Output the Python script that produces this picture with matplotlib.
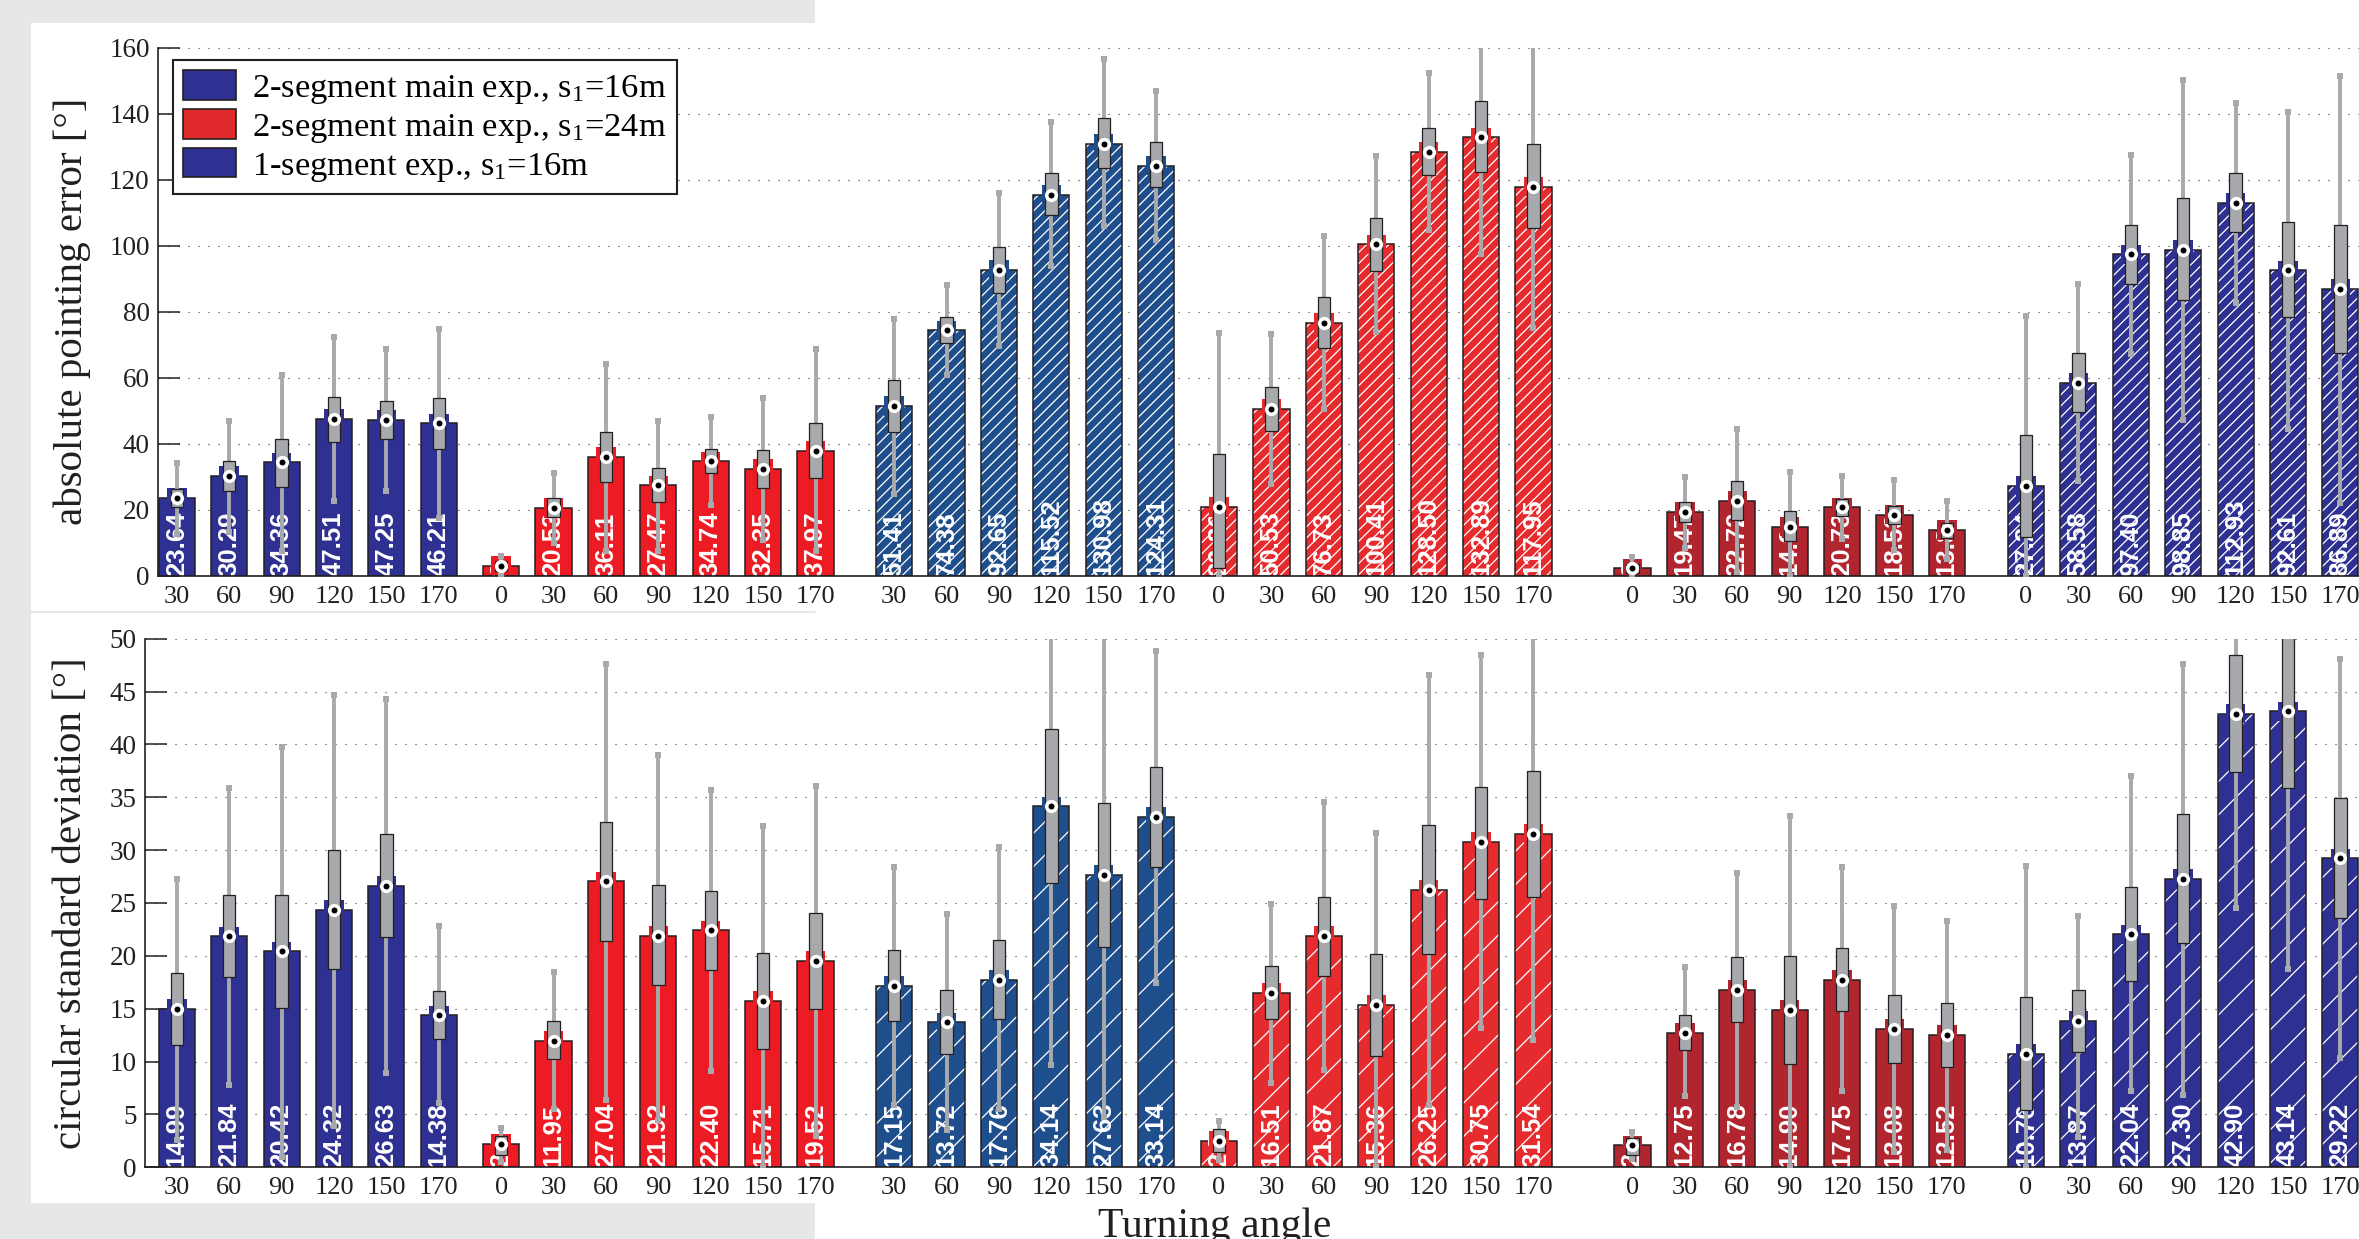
import numpy as np
import matplotlib
matplotlib.use('Agg')
import matplotlib.pyplot as plt
from matplotlib.patches import Rectangle, Patch
from matplotlib.lines import Line2D

plt.rcParams['font.family'] = ['Liberation Serif', 'DejaVu Serif']
plt.rcParams['mathtext.fontset'] = 'custom'
plt.rcParams['mathtext.rm'] = 'Liberation Serif'
plt.rcParams['mathtext.it'] = 'Liberation Serif:italic'
plt.rcParams['hatch.linewidth'] = 0.9

# --- turning angles per condition group ---
angles_no0 = [30, 60, 90, 120, 150, 170]
angles_all = [0, 30, 60, 90, 120, 150, 170]
group_angles = [angles_no0, angles_all, angles_no0, angles_all, angles_all, angles_all]

# --- absolute pointing error [deg]: mean, quartiles, whisker ends ---
err_mean = [23.64, 30.29, 34.36, 47.51, 47.25, 46.21,
            3.12, 20.53, 36.11, 27.47, 34.74, 32.35, 37.97,
            51.41, 74.38, 92.65, 115.52, 130.98, 124.31,
            20.86, 50.53, 76.73, 100.41, 128.50, 132.89, 117.95,
            2.30, 19.47, 22.72, 14.93, 20.73, 18.53, 13.89,
            27.24, 58.58, 97.40, 98.85, 112.93, 92.61, 86.89]
err_q3 = [26.3, 34.8, 41.4, 54.3, 53.1, 53.9,
          4.6, 23.5, 43.7, 32.8, 38.3, 38.0, 46.4,
          59.4, 78.5, 99.7, 122.1, 138.8, 131.4,
          36.9, 57.2, 84.6, 108.4, 135.6, 143.8, 130.8,
          3.6, 22.3, 28.8, 19.7, 23.2, 21.3, 16.1,
          42.7, 67.6, 106.4, 114.4, 122.1, 107.2, 106.4]
err_q1 = [20.9, 25.7, 27.0, 40.6, 41.4, 38.5,
          1.6, 17.7, 28.4, 22.3, 31.1, 26.7, 29.8,
          43.5, 70.5, 85.8, 109.2, 123.7, 117.7,
          2.5, 43.8, 69.0, 92.5, 121.5, 122.5, 105.3,
          1.0, 16.2, 16.9, 10.7, 18.2, 15.7, 11.6,
          11.9, 49.6, 88.5, 83.5, 104.1, 78.3, 67.6]
err_hi = [34.2, 47.0, 60.9, 72.5, 68.8, 74.8,
          6.0, 31.1, 64.1, 47.0, 48.1, 53.9, 68.8,
          77.9, 88.1, 115.9, 137.4, 156.5, 147.0,
          73.6, 73.3, 103.0, 127.2, 152.5, 165.0, 168.0,
          5.8, 30.1, 44.6, 31.6, 30.4, 29.1, 22.7,
          78.6, 88.5, 127.5, 150.1, 143.2, 140.6, 151.6]
err_lo = [12.8, 13.3, 7.5, 22.6, 25.7, 17.4,
          0.4, 9.9, 7.5, 7.5, 21.4, 11.0, 7.5,
          24.9, 60.9, 69.6, 93.9, 105.9, 101.7,
          0.0, 27.8, 50.7, 73.9, 104.9, 97.4, 75.1,
          0.0, 8.4, 1.2, 0.0, 11.1, 7.8, 5.0,
          0.0, 28.8, 67.2, 47.3, 82.7, 44.6, 22.0]

# --- circular standard deviation [deg] ---
sd_mean = [14.99, 21.84, 20.42, 24.32, 26.63, 14.38,
           2.21, 11.95, 27.04, 21.92, 22.40, 15.71, 19.52,
           17.15, 13.72, 17.76, 34.14, 27.63, 33.14,
           2.52, 16.51, 21.87, 15.36, 26.25, 30.75, 31.54,
           2.08, 12.75, 16.78, 14.90, 17.75, 13.08, 12.52,
           10.76, 13.87, 22.04, 27.30, 42.90, 43.14, 29.22]
sd_q3 = [18.4, 25.8, 25.8, 30.0, 31.5, 16.7,
         3.0, 13.8, 32.7, 26.7, 26.1, 20.3, 24.1,
         20.6, 16.8, 21.5, 41.5, 34.5, 37.9,
         3.6, 19.0, 25.6, 20.2, 32.4, 36.0, 37.5,
         2.8, 14.4, 19.9, 20.0, 20.7, 16.3, 15.5,
         16.1, 16.8, 26.5, 33.4, 48.5, 51.0, 34.9]
sd_q1 = [11.6, 18.0, 15.1, 18.8, 21.8, 12.1,
         1.2, 10.2, 21.4, 17.2, 18.7, 11.2, 15.0,
         13.8, 10.7, 14.0, 26.9, 20.8, 28.4,
         1.4, 14.0, 18.1, 10.5, 20.2, 25.4, 25.6,
         1.2, 11.1, 13.7, 9.8, 14.8, 9.9, 9.5,
         5.4, 10.9, 17.6, 21.2, 37.4, 35.9, 23.6]
sd_hi = [27.3, 35.9, 39.8, 44.7, 44.3, 22.8,
         3.7, 18.5, 47.6, 39.0, 35.7, 32.3, 36.1,
         28.4, 24.0, 30.3, 52.0, 53.0, 48.8,
         4.4, 24.9, 34.6, 31.6, 46.6, 48.5, 52.0,
         3.3, 18.9, 27.8, 33.2, 28.4, 24.7, 23.3,
         28.5, 23.8, 37.0, 47.6, 53.0, 56.0, 48.1]
sd_lo = [2.6, 7.8, 1.0, 3.9, 8.9, 6.1,
         0.5, 5.5, 6.4, 4.5, 9.1, 0.0, 3.0,
         5.9, 3.5, 5.5, 9.7, 4.8, 17.4,
         0.7, 8.0, 9.2, 0.0, 5.9, 13.2, 12.0,
         0.8, 6.7, 5.7, 0.0, 7.2, 1.4, 1.6,
         0.0, 2.9, 7.2, 6.8, 24.5, 18.8, 10.3]

legend_labels = ['2-segment main exp., s$_{1}$=16m',
                 '2-segment main exp., s$_{1}$=24m',
                 '1-segment exp., s$_{1}$=16m']

# --- styling ---
group_colors = ['#2e3192', '#ed1c24', '#1f4e8d', '#e52b2e', '#b1252f', '#2e3192']
hatch_top = [None, None, '///', '///', None, '///']
hatch_bot = [None, None, '/', '/', None, '/']
group_start = [0.0, 6.19, 13.69, 19.89, 27.78, 35.29]
EDGE = '#231f20'
GREY = '#a7a9ac'
BAR_W = 0.69
BOX_W = 0.235
VALUE_FONT = ['Liberation Sans', 'DejaVu Sans']

x = np.concatenate([s + np.arange(len(a)) for s, a in zip(group_start, group_angles)])
tick_lbl = [str(a) for grp in group_angles for a in grp]
bar_col = [c for c, a in zip(group_colors, group_angles) for _ in a]

W, H, DPI = 2359, 1239, 100
PX_UNIT = 52.4
X0_PX = 176.8
XMAX = 42.5

fig = plt.figure(figsize=(W / DPI, H / DPI), dpi=DPI)
fig.patch.set_facecolor('#e6e7e8')
# white page areas behind the plots
fig.add_artist(Rectangle((31 / W, 1 - 1203 / H), (815 - 31) / W, (1203 - 23) / H,
                         transform=fig.transFigure, facecolor='white', edgecolor='none', zorder=-10))
fig.add_artist(Rectangle((815 / W, 0), 1 - 815 / W, 1, transform=fig.transFigure,
                         facecolor='white', edgecolor='none', zorder=-10))
fig.add_artist(Line2D([31 / W, 815 / W], [1 - 612 / H, 1 - 612 / H], transform=fig.transFigure,
                      color='#e2e3e4', lw=1.2, zorder=-9))


def make_axes(left_px, y0_px, ytop_px):
    xmin = (left_px - X0_PX) / PX_UNIT
    ax = fig.add_axes([left_px / W, 1 - y0_px / H, (XMAX - xmin) * PX_UNIT / W, (y0_px - ytop_px) / H])
    ax.set_xlim(xmin, XMAX)
    return ax


def draw_panel(ax, mean, q1, q3, lo, hi, hatches, ymax, ystep, ylabel, ylabel_y):
    hatch_bar = [h for h, a in zip(hatches, group_angles) for _ in a]
    mean = np.asarray(mean)
    for xi, m, col, h in zip(x, mean, bar_col, hatch_bar):
        base = ax.bar(xi, m, width=BAR_W, color=col, edgecolor='white',
                      linewidth=0, hatch=h, zorder=1)[0]
        ax.bar(xi, m, width=BAR_W, fill=False, edgecolor=EDGE, linewidth=1.1, zorder=1.1)
        t = ax.text(xi, 0, f'{m:.2f}', rotation=90, ha='center', va='bottom',
                    color='white', fontsize=18.5, fontweight='bold',
                    family=VALUE_FONT, zorder=2)
        t.set_clip_path(base)
    # coloured collar behind the median marker
    ax.scatter(x, mean, s=14 ** 2, marker='s', c=bar_col, linewidths=0, zorder=2.5)
    # whiskers with square caps
    ax.vlines(x, lo, hi, colors=GREY, linewidth=2.8, zorder=3)
    ax.plot(x, lo, 's', color=GREY, markersize=4.5, markeredgewidth=0, zorder=3)
    ax.plot(x, hi, 's', color=GREY, markersize=4.5, markeredgewidth=0, zorder=3)
    # interquartile box
    ax.bar(x, np.asarray(q3) - np.asarray(q1), bottom=q1, width=BOX_W, color=GREY,
           edgecolor=EDGE, linewidth=0.9, zorder=4)
    # median marker: white ring with black centre
    ax.plot(x, mean, 'o', color='white', markersize=9.5, markeredgewidth=0, zorder=5)
    ax.plot(x, mean, 'o', color='black', markersize=4.3, markeredgewidth=0, zorder=6)

    ax.set_ylim(0, ymax)
    ax.set_yticks(np.arange(0, ymax + 0.1, ystep))
    ax.set_xticks(x)
    ax.set_xticklabels(tick_lbl)
    ax.set_facecolor('none')
    ax.set_axisbelow(True)
    ax.yaxis.grid(True, linestyle=(0, (1, 8)), color='#3a3a3a', linewidth=0.8)
    for side in ('top', 'right'):
        ax.spines[side].set_visible(False)
    for side in ('left', 'bottom'):
        ax.spines[side].set_linewidth(1.2)
        ax.spines[side].set_color(EDGE)
    ax.tick_params(axis='y', direction='in', length=16, width=1.1, labelsize=19.5, pad=6,
                   colors=EDGE, labelcolor=EDGE)
    ax.tick_params(axis='x', length=0, labelsize=19, pad=7, labelcolor=EDGE)
    fig.text(72 / W, 1 - ylabel_y / H, ylabel, rotation=90, ha='center', va='center',
             fontsize=29.5, color=EDGE)


ax_err = make_axes(158, 575.9, 47.8)
draw_panel(ax_err, err_mean, err_q1, err_q3, err_lo, err_hi, hatch_top, 160, 20,
           'absolute pointing error [°]', 311)

ax_sd = make_axes(145, 1167.3, 638.7)
draw_panel(ax_sd, sd_mean, sd_q1, sd_q3, sd_lo, sd_hi, hatch_bot, 50, 5,
           'circular standard deviation [°]', 903.5)

handles = [Patch(facecolor=group_colors[0], edgecolor=EDGE, linewidth=1.2),
           Patch(facecolor='#e12a2c', edgecolor=EDGE, linewidth=1.2),
           Patch(facecolor=group_colors[5], edgecolor=EDGE, linewidth=1.2)]
leg = ax_err.legend(handles, legend_labels, loc='upper left',
                    bbox_to_anchor=(173 / W, 1 - 60 / H), bbox_transform=fig.transFigure,
                    borderaxespad=0, fontsize=24.8, handlelength=1.52, handleheight=0.93,
                    handletextpad=0.47, labelspacing=0.1, borderpad=0.3,
                    fancybox=False, framealpha=1, edgecolor=EDGE)
leg.get_frame().set_linewidth(1.5)
leg.set_zorder(10)

fig.text(1215 / W, 1 - 1208 / H, 'Turning angle', ha='center', va='top',
         fontsize=30, color=EDGE)

fig.savefig('out.png', dpi=DPI, facecolor=fig.get_facecolor())
